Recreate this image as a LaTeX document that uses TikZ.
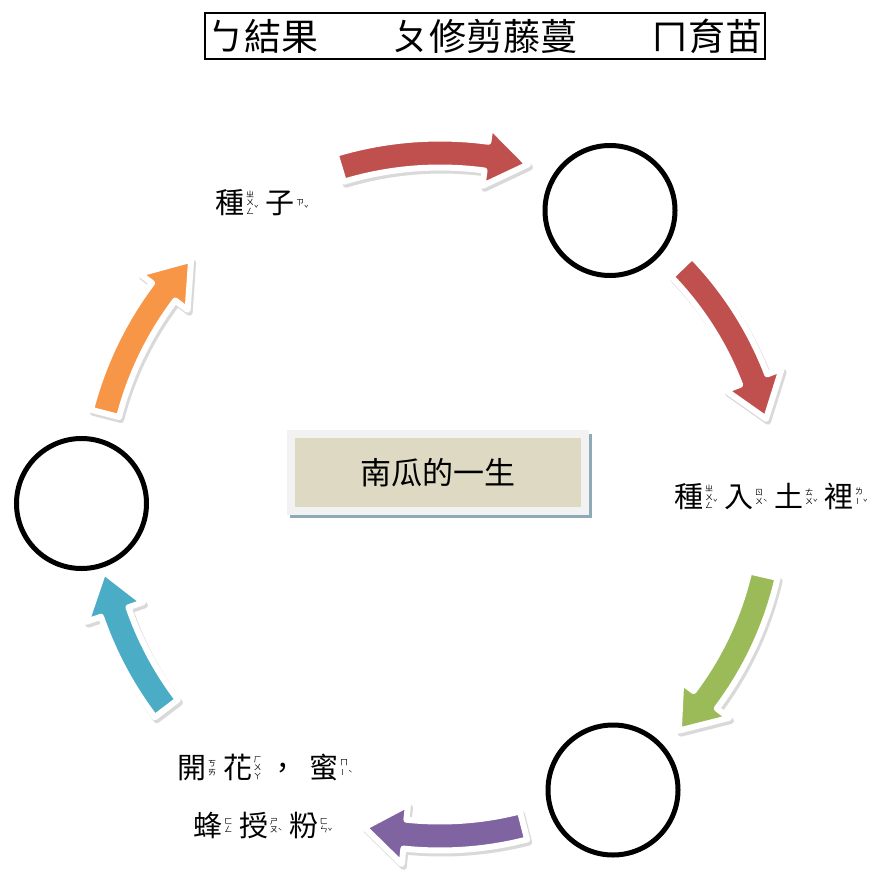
\documentclass[tikz,border=0pt]{standalone}
\usepackage{fontspec}
\setmainfont{Noto Sans CJK TC}
\definecolor{pkred}{RGB}{192,80,77}
\definecolor{pkgreen}{RGB}{155,187,89}
\definecolor{pkpurple}{RGB}{128,100,162}
\definecolor{pkblue}{RGB}{75,172,198}
\definecolor{pkorange}{RGB}{247,150,70}
\definecolor{pktan}{RGB}{221,217,195}
\definecolor{pkshadow}{RGB}{143,170,183}
\tikzstyle{ring}=[fill=white, draw=black, shape=circle, line width=5pt, minimum size=130pt]
\tikzstyle{lbl}=[font=\fontsize{29}{34}\selectfont, inner sep=0pt]

% character with its zhuyin column and tone mark
\newcommand{\zy}[3]{#1\hspace{1.5pt}%
  \raisebox{3pt}{$\vcenter{\hbox{\fontsize{8}{8.2}\selectfont\begin{tabular}{@{}c@{}}#2\end{tabular}}}$}%
  \raisebox{2pt}{\fontsize{7.5}{7.5}\selectfont #3}\hspace{7pt}}
\newcommand{\yi}{\rotatebox{90}{ㄧ}}

% curved block arrow round the cycle centre: colour, radius, from, to
\newcommand{\cyclearrow}[4]{%
  \def\arrowpath{plot[domain=#3:#4-6, samples=20] ({440+(#2+14.5)*cos(\x)}, {500+(#2+14.5)*sin(\x)})
    -- ({440+(#2+30)*cos(#4-6)}, {500+(#2+30)*sin(#4-6)})
    -- ({440+#2*cos(#4+1)}, {500+#2*sin(#4+1)})
    -- ({440+(#2-30)*cos(#4-6)}, {500+(#2-30)*sin(#4-6)})
    -- plot[domain=#4-6:#3, samples=20] ({440+(#2-14.5)*cos(\x)}, {500+(#2-14.5)*sin(\x)}) -- cycle}%
  \path[fill=black!15, draw=black!15, line width=6pt, line join=round, shift={(2,3)}] \arrowpath;
  \path[fill=#1, draw=white, line width=6pt, line join=round] \arrowpath;
}

\begin{document}
\begin{tikzpicture}[x=1pt, y=-1pt]
	\fill[white] (0,0) rectangle (871,872);
	\useasboundingbox (0,0) rectangle (871,872);

	\fill[pkshadow] (290,434) rectangle (592,518);
	\node[fill=pktan, draw=black!5, line width=8pt, minimum width=294pt, minimum height=77pt, inner sep=0pt, font=\fontsize{31}{36}\selectfont] (7) at (438,472.5) {南瓜的一生};

	\cyclearrow{pkred}{347}{-106.8}{-76.3}
	\cyclearrow{pkred}{336}{-44}{-15}
	\cyclearrow{pkgreen}{332}{13}{43}
	\cyclearrow{pkpurple}{336}{75.6}{102}
	\cyclearrow{pkblue}{344}{142.7}{167}
	\cyclearrow{pkorange}{346}{194.5}{223}

	\node[style=ring] (1) at (610,210.5) {};
	\node[style=ring] (3) at (613,790) {};
	\node[style=ring] (5) at (81.5,503.5) {};

	\node[lbl] (2) at (262,203) {\zy{種}{ㄓ\\ㄨ\\ㄥ}{ˇ}\zy{子}{ㄗ}{ˇ}};
	\node[lbl] (4) at (771,497) {\zy{種}{ㄓ\\ㄨ\\ㄥ}{ˇ}\zy{入}{ㄖ\\ㄨ}{ˋ}\zy{土}{ㄊ\\ㄨ}{ˇ}\zy{裡}{ㄌ\\\yi}{ˇ}};
	\node[lbl] (6) at (265,768) {\zy{開}{ㄎ\\ㄞ}{}\zy{花}{ㄏ\\ㄨ\\ㄚ}{}，\hspace{12pt}\zy{蜜}{ㄇ\\\yi}{ˋ}};
	\node[lbl] (8) at (263,825) {\zy{蜂}{ㄈ\\ㄥ}{}\zy{授}{ㄕ\\ㄡ}{ˋ}\zy{粉}{ㄈ\\ㄣ}{ˇ}};

	\node[draw, line width=2pt, minimum width=560pt, minimum height=46pt, inner sep=0pt, font=\fontsize{37}{42}\selectfont] (0) at (485,36) {ㄅ結果　　ㄆ修剪藤蔓　　ㄇ育苗};
\end{tikzpicture}
\end{document}
